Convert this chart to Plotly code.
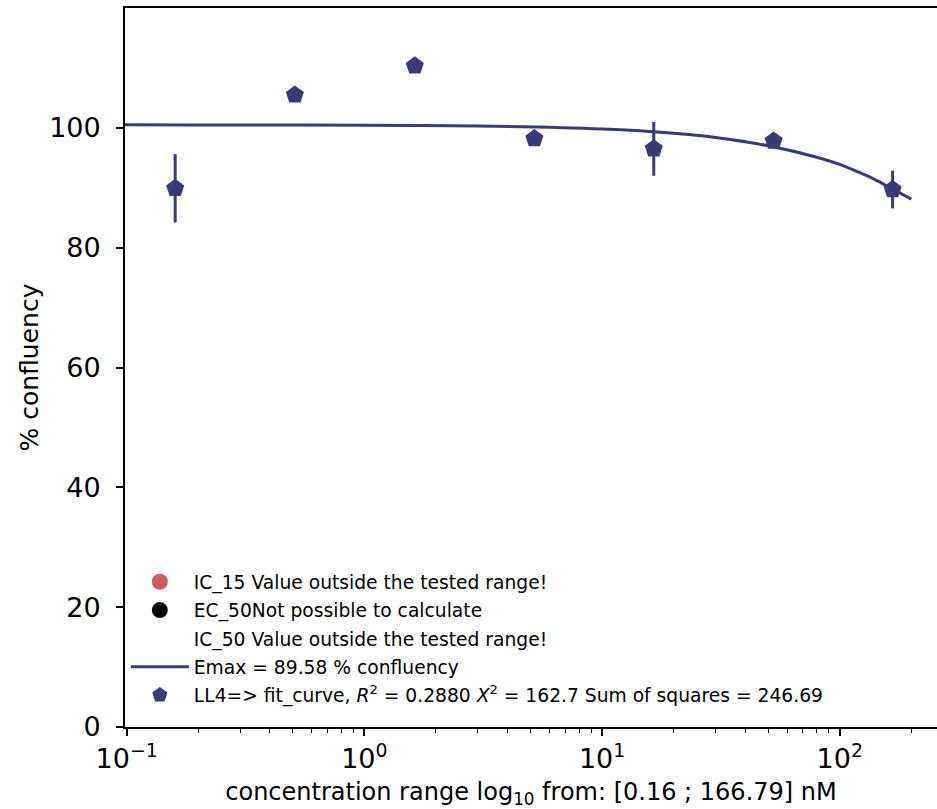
import plotly.graph_objects as go

# ---- data ----
conc = [0.16, 0.51, 1.63, 5.19, 16.5, 52.7, 166.79]
confluency = [89.9, 105.5, 110.35, 98.2, 96.5, 97.8, 89.7]
conf_err = [5.7, 0.5, 0.5, 0.5, 4.5, 0.5, 3.15]

curve_x = [0.09, 0.1, 0.3, 1, 3, 10, 20, 30, 50, 80, 100, 120, 140, 166.79, 200]
curve_y = [100.5, 100.5, 100.48, 100.43, 100.3, 99.8, 99.1, 98.4, 97.0, 95.1, 93.9, 92.6, 91.4, 89.8, 88.1]

x_tickvals = [0.1, 1, 10, 100]
x_ticktext = ["10<sup>\u22121</sup>", "10<sup>0</sup>", "10<sup>1</sup>", "10<sup>2</sup>"]
x_minor = [v * m for v in [0.1, 1, 10, 100] for m in range(2, 10)]
y_tickvals = [0, 20, 40, 60, 80, 100]

legend_ic15 = "IC_15 Value outside the tested range!"
legend_ec50 = "EC_50Not possible to calculate"
legend_ic50 = "IC_50 Value outside the tested range!"
legend_emax = "Emax = 89.58 % confluency"
legend_fit = ("LL4=&gt; fit_curve, <i>R</i><sup>2</sup> = 0.2880 "
              "<i>X</i><sup>2</sup> = 162.7 Sum of squares = 246.69")

NAVY = "#393b79"
FONT = "DejaVu Sans"

fig = go.Figure()

fig.add_trace(go.Scatter(x=[None], y=[None], mode="markers", name=legend_ic15,
                         marker=dict(symbol="circle", size=16, color="#cd5c5c"),
                         legendgroup="a", legendrank=1))
fig.add_trace(go.Scatter(x=[None], y=[None], mode="markers", name=legend_ec50,
                         marker=dict(symbol="circle", size=16, color="black"),
                         legendgroup="b", legendrank=2))
fig.add_trace(go.Scatter(x=[None], y=[None], mode="markers", name=legend_ic50,
                         marker=dict(symbol="circle", size=16, color="rgba(0,0,0,0)"),
                         legendgroup="c", legendrank=3))
fig.add_trace(go.Scatter(x=curve_x, y=curve_y, mode="lines", name=legend_emax,
                         line=dict(color=NAVY, width=3, shape="spline", smoothing=0.8),
                         legendgroup="d", legendrank=4))
fig.add_trace(go.Scatter(x=conc, y=confluency, mode="markers", name=legend_fit,
                         marker=dict(symbol="pentagon", size=19, color=NAVY,
                                     line=dict(width=0)),
                         error_y=dict(type="data", array=conf_err, color=NAVY,
                                      thickness=3, width=0),
                         legendgroup="e", legendrank=5))

fig.update_layout(
    width=937, height=809,
    margin=dict(l=125, r=0, t=8, b=82, pad=0),
    paper_bgcolor="white", plot_bgcolor="white",
    font=dict(family=FONT, color="black", size=24),
    showlegend=True,
    legend=dict(x=0.001, y=0.228, xanchor="left", yanchor="top",
                bgcolor="rgba(0,0,0,0)", font=dict(size=18.7, family=FONT),
                traceorder="grouped", tracegroupgap=1, itemwidth=58),
    xaxis=dict(type="log", range=[-1.007, 2.409],
               tickmode="array", tickvals=x_tickvals, ticktext=x_ticktext,
               ticks="outside", ticklen=7, tickwidth=1.6, tickcolor="black",
               showline=True, linewidth=1.8, linecolor="black", mirror=True,
               showgrid=False, zeroline=False,
               tickfont=dict(size=27, family=FONT),
               minor=dict(tickmode="array", tickvals=x_minor, ticks="outside",
                          ticklen=4, tickwidth=1.2, tickcolor="black", showgrid=False),
               title=dict(text="concentration range log<sub>10</sub> from: [0.16 ; 166.79] nM",
                          font=dict(size=24, family=FONT), standoff=16)),
    yaxis=dict(range=[0, 120], tickmode="array", tickvals=y_tickvals,
               ticks="outside", ticklen=7, tickwidth=1.6, tickcolor="black",
               showline=True, linewidth=1.8, linecolor="black", mirror=False,
               showgrid=False, zeroline=False, ticklabelstandoff=10,
               tickfont=dict(size=27, family=FONT),
               title=dict(text="% confluency", font=dict(size=25, family=FONT), standoff=3)),
)

fig.write_html("out.html", config={"displayModeBar": False},
               post_script="document.body.style.margin='0';")
